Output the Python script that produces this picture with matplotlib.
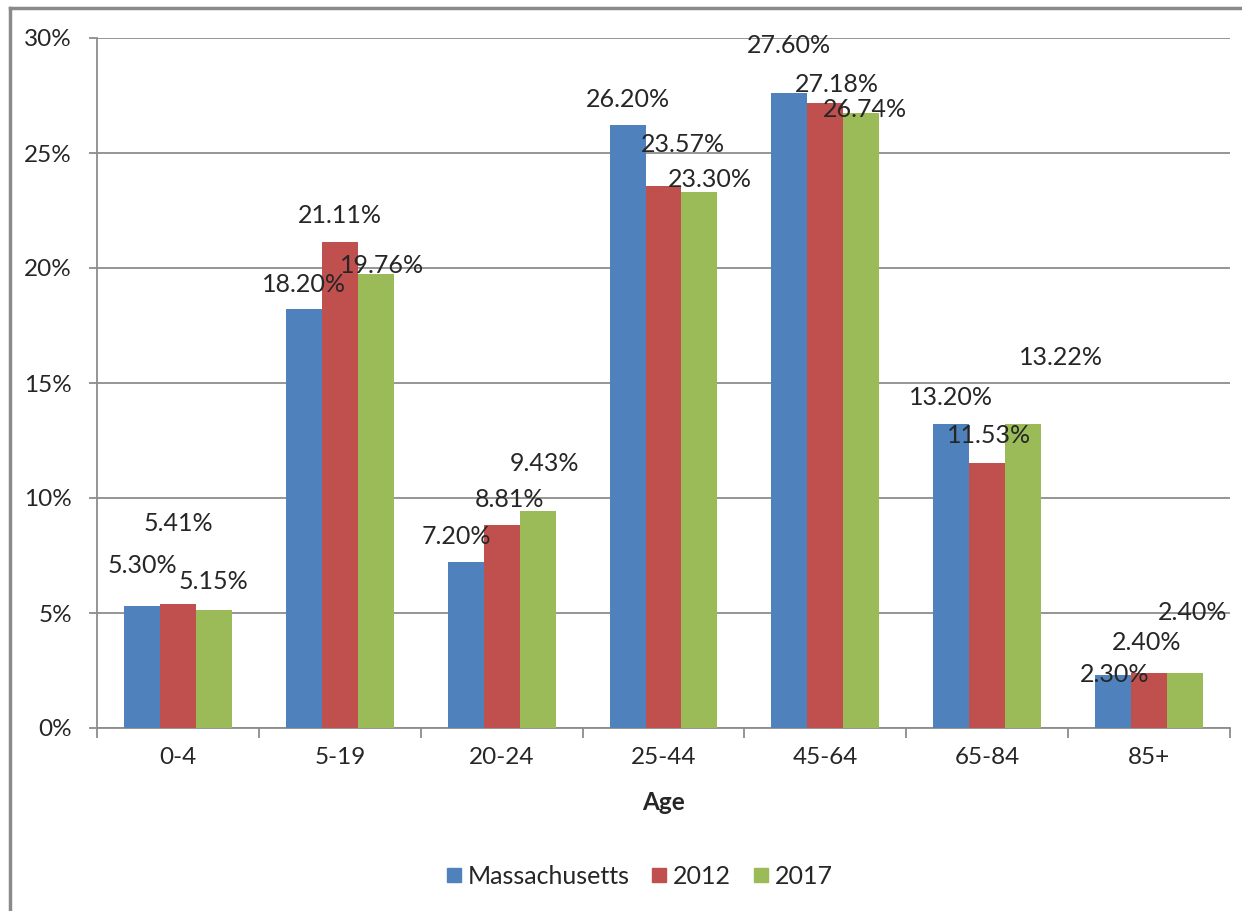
import matplotlib
matplotlib.use("Agg")
import matplotlib.pyplot as plt
from matplotlib.lines import Line2D
import numpy as np

# ============ Datos ============
age_groups = ["0-4", "5-19", "20-24", "25-44", "45-64", "65-84", "85+"]
massachusetts = [5.30, 18.20, 7.20, 26.20, 27.60, 13.20, 2.30]
y2012 = [5.41, 21.11, 8.81, 23.57, 27.18, 11.53, 2.40]
y2017 = [5.15, 19.76, 9.43, 23.30, 26.74, 13.22, 2.40]
series_names = ["Massachusetts", "2012", "2017"]
colors = ["#4F81BD", "#C0504D", "#9BBB59"]

# label offsets (px) relative to bar top centre, like the hand-moved Excel labels
offsets = [
    [(0, 41), (0, 25), (-9, 26), (0, 26), (0, 48), (0, 27), (1, 1)],
    [(0, 80), (0, 27), (8, 26), (19, 41), (12, 18), (2, 27), (-2, 30)],
    [(0, 28), (6, 8), (7, 48), (10, 13), (4, 3), (38, 66), (8, 60)],
]

FONT = ["Lato", "DejaVu Sans"]
plt.rcParams["font.family"] = FONT
TXT = "#262626"
GRID = "#8C8C8C"

fig = plt.figure(figsize=(12.42, 9.11), dpi=100)
ax = fig.add_axes([97 / 1242, 1 - 728 / 911, (1230 - 97) / 1242, (728 - 38) / 911])

x = np.arange(len(age_groups))
w = 0.222
all_series = [massachusetts, y2012, y2017]
for i, (vals, name, col) in enumerate(zip(all_series, series_names, colors)):
    pos = x + (i - 1) * w
    ax.bar(pos, vals, width=w, color=col, label=name, zorder=3)
    for j, (px, v) in enumerate(zip(pos, vals)):
        dx, dy = offsets[i][j]
        ax.annotate(f"{v:.2f}%", (px, v), xytext=(dx * 0.72, dy * 0.72),
                    textcoords="offset points", ha="center", va="center",
                    fontsize=18, color=TXT, zorder=4)

ax.set_xlim(-0.5, len(age_groups) - 0.5)
ax.set_ylim(0, 30)
ax.set_yticks(range(0, 31, 5))
ax.set_yticklabels([f"{t}%" for t in range(0, 31, 5)], fontsize=17.5, color=TXT)
ax.yaxis.grid(True, color=GRID, linewidth=1.3, zorder=0)
ax.set_axisbelow(True)

ax.set_xticks(x)
ax.set_xticklabels(age_groups, fontsize=17.5, color=TXT)
ax.tick_params(axis="x", length=0, pad=14)
ax.set_xticks(np.arange(-0.5, len(age_groups), 1), minor=True)
ax.tick_params(axis="x", which="minor", length=7, width=1.3, color=GRID, direction="out")
ax.tick_params(axis="y", length=6, width=1.3, color=GRID, direction="out", pad=12)

for s in ("top", "right"):
    ax.spines[s].set_visible(False)
for s in ("left", "bottom"):
    ax.spines[s].set_color(GRID)
    ax.spines[s].set_linewidth(1.3)

ax.set_xlabel("Age", fontsize=17.5, fontweight="bold", color=TXT, labelpad=16)

handles = [Line2D([], [], marker="s", linestyle="none", markersize=10.5,
                  markerfacecolor=c, markeredgecolor=c) for c in colors]
fig.legend(handles, series_names, loc="center", bbox_to_anchor=(639 / 1242, 1 - 876 / 911),
           ncol=3, frameon=False, fontsize=18, handletextpad=0.2, columnspacing=0.85,
           handlelength=0.7, labelcolor=TXT)

# screenshot frame lines
fig.add_artist(Line2D([10 / 1242, 10 / 1242], [0, 1 - 8 / 911], transform=fig.transFigure,
                      color="#8a8a8a", linewidth=2.5))
fig.add_artist(Line2D([10 / 1242, 1], [1 - 8 / 911, 1 - 8 / 911], transform=fig.transFigure,
                      color="#8a8a8a", linewidth=2.5))

fig.savefig("out.png", dpi=100, facecolor="white")
